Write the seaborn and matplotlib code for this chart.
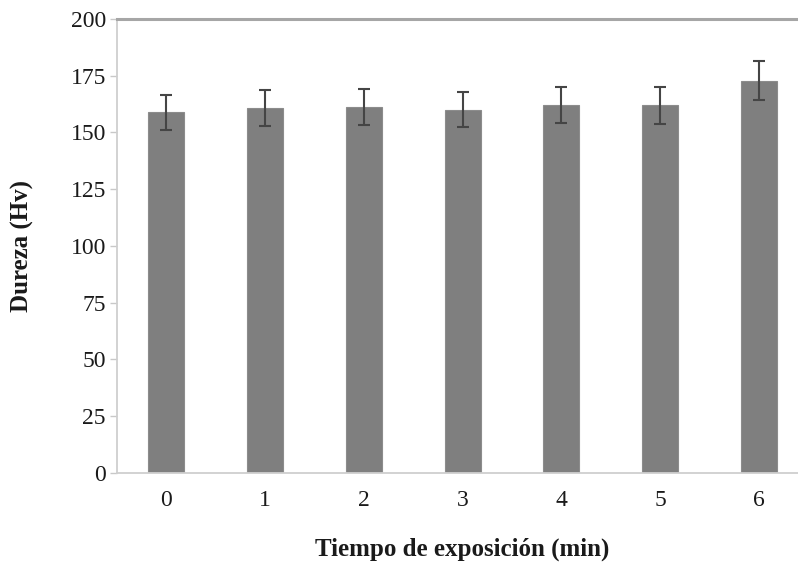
import matplotlib
matplotlib.use("Agg")
import matplotlib.pyplot as plt
import seaborn as sns
import pandas as pd

# Data
tiempo = ["0", "1", "2", "3", "4", "5", "6"]
dureza = [158.8, 160.6, 161.2, 160.0, 162.2, 162.0, 172.8]
error = [7.9, 7.9, 8.0, 7.8, 8.0, 8.2, 8.5]
y_ticks = [0, 25, 50, 75, 100, 125, 150, 175, 200]

df = pd.DataFrame({"tiempo": tiempo, "dureza": dureza, "error": error})

sns.set_style("white")
plt.rcParams["font.family"] = ["Liberation Serif", "DejaVu Serif"]

fig = plt.figure(figsize=(7.98, 5.69), dpi=100)
ax = fig.add_axes([0.1466, 0.1687, 0.866, 0.798])

sns.barplot(data=df, x="tiempo", y="dureza", color="#7f7f7f", width=0.365,
            errorbar=None, saturation=1, edgecolor="#8c8c8c", linewidth=0.8, ax=ax)
ax.errorbar(range(len(tiempo)), df["dureza"], yerr=df["error"], fmt="none",
            ecolor="#454545", elinewidth=1.5, capsize=4.3, capthick=1.5)

ax.set_xlim(-0.5, 6.5)
ax.set_ylim(0, 200)
ax.set_yticks(y_ticks)
ax.tick_params(axis="y", which="both", left=True, length=5, width=1, color="#c8c8c8",
               labelsize=17, labelcolor="#1a1a1a", pad=3)
ax.tick_params(axis="x", bottom=False, labelsize=17, labelcolor="#1a1a1a", pad=9)

for side in ["left", "bottom"]:
    ax.spines[side].set_color("#cfcfcf")
    ax.spines[side].set_linewidth(1.3)
ax.spines["top"].set_color("#a6a6a6")
ax.spines["top"].set_linewidth(2.2)
ax.spines["right"].set_visible(False)

ax.set_xlabel("Tiempo de exposición (min)", fontsize=18, fontweight="bold",
              color="#1a1a1a", labelpad=19)
ax.set_ylabel("Dureza (Hv)", fontsize=18, fontweight="bold", color="#1a1a1a",
              labelpad=26)

fig.savefig("out.png", dpi=100)
